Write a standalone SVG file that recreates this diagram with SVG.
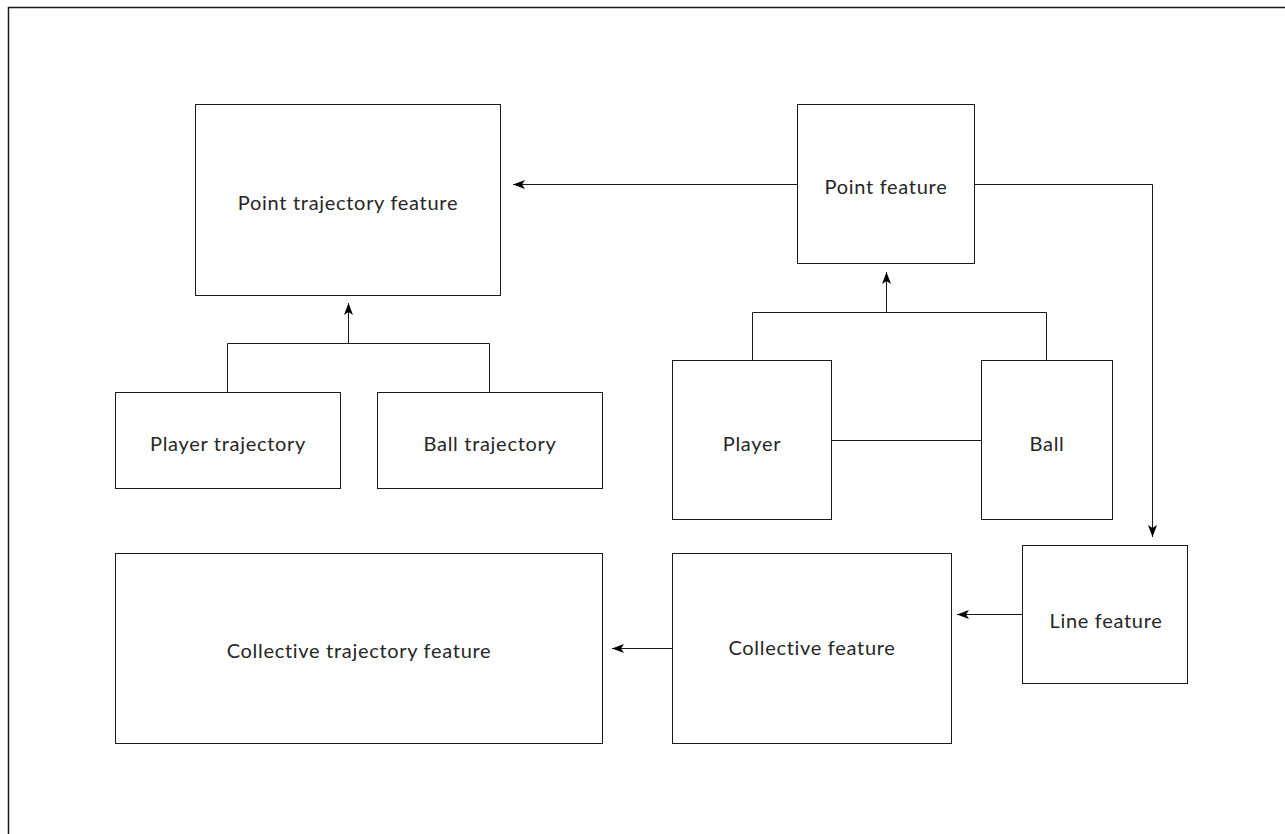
<svg xmlns="http://www.w3.org/2000/svg" width="1285" height="834" viewBox="0 0 1285 834">
<style>
.box{fill:#fff;stroke:#1a1a1a;stroke-width:1}
.lbl{font-family:Lato,"Liberation Sans",sans-serif;font-size:20px;font-weight:400;letter-spacing:0.7px;fill:#262626;text-anchor:middle}
.conn{fill:none;stroke:#1a1a1a;stroke-width:1}
</style>
<defs>
<marker id="arr" markerUnits="userSpaceOnUse" markerWidth="12" markerHeight="10" refX="12" refY="5" orient="auto" overflow="visible">
<path d="M0,0.5 L12,5 L0,9.5 L3,5 Z" fill="#000"/>
</marker>
</defs>
<rect x="0" y="0" width="1285" height="834" fill="#fff"/>
<rect id="frame" x="8.5" y="7.5" width="1400" height="1000" fill="none" stroke="#1a1a1a" stroke-width="1.5"/>
<g id="connectors">
<path class="conn" d="M797,184.5 H513" marker-end="url(#arr)"/>
<path class="conn" d="M974,184.5 H1152.5 V537" marker-end="url(#arr)"/>
<path class="conn" d="M227.5,392 V343.5 H489.5 V392"/>
<path class="conn" d="M348.5,343.5 V303" marker-end="url(#arr)"/>
<path class="conn" d="M752.5,360 V312.5 H1046.5 V360"/>
<path class="conn" d="M886.5,312.5 V272" marker-end="url(#arr)"/>
<path class="conn" d="M831,440.5 H981"/>
<path class="conn" d="M1022,614.5 H957" marker-end="url(#arr)"/>
<path class="conn" d="M672,648.5 H612" marker-end="url(#arr)"/>
</g>
<g id="point-trajectory-feature"><rect class="box" x="195.5" y="104.5" width="305" height="191"/><text class="lbl" x="348" y="210">Point trajectory feature</text></g>
<g id="point-feature"><rect class="box" x="797.5" y="104.5" width="177" height="159"/><text class="lbl" x="886" y="194">Point feature</text></g>
<g id="player-trajectory"><rect class="box" x="115.5" y="392.5" width="225" height="96"/><text class="lbl" x="228" y="451">Player trajectory</text></g>
<g id="ball-trajectory"><rect class="box" x="377.5" y="392.5" width="225" height="96"/><text class="lbl" x="490" y="451">Ball trajectory</text></g>
<g id="player"><rect class="box" x="672.5" y="360.5" width="159" height="159"/><text class="lbl" x="752" y="451">Player</text></g>
<g id="ball"><rect class="box" x="981.5" y="360.5" width="131" height="159"/><text class="lbl" x="1047" y="451">Ball</text></g>
<g id="line-feature"><rect class="box" x="1022.5" y="545.5" width="165" height="138"/><text class="lbl" x="1106" y="628">Line feature</text></g>
<g id="collective-feature"><rect class="box" x="672.5" y="553.5" width="279" height="190"/><text class="lbl" x="812" y="655">Collective feature</text></g>
<g id="collective-trajectory-feature"><rect class="box" x="115.5" y="553.5" width="487" height="190"/><text class="lbl" x="359" y="658">Collective trajectory feature</text></g>
</svg>
